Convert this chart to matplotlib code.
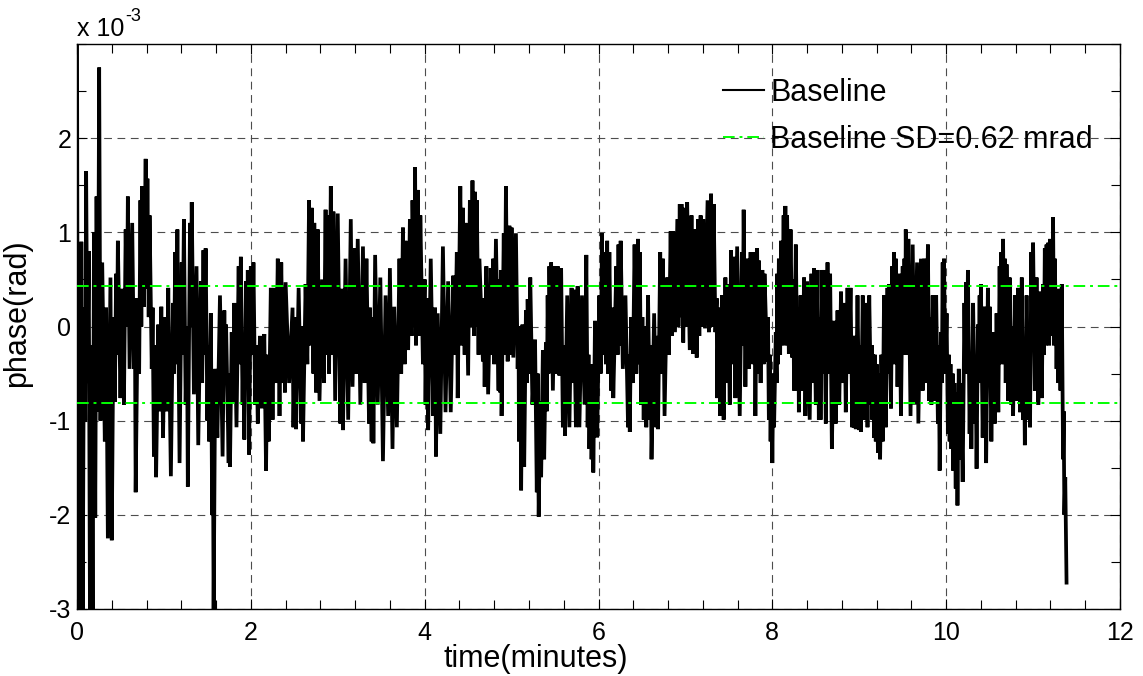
import numpy as np
import matplotlib
matplotlib.use("Agg")
import matplotlib.pyplot as plt
from matplotlib.ticker import MultipleLocator, FuncFormatter

plt.rcParams['font.family'] = ['Liberation Sans', 'DejaVu Sans']

# signal peaks / troughs (time in minutes, phase in mrad)
t_seg1 = [0.000, 0.012, 0.025, 0.035, 0.050, 0.065, 0.080, 0.095, 0.105, 0.120,
          0.135, 0.150, 0.165, 0.180, 0.195, 0.210, 0.225, 0.240, 0.255, 0.270,
          0.290, 0.320, 0.335, 0.355, 0.385, 0.400, 0.420, 0.435, 0.450, 0.460,
          0.470, 0.500, 0.520, 0.540, 0.560, 0.575, 0.585, 0.605, 0.635, 0.655,
          0.665, 0.675, 0.700, 0.715, 0.730, 0.740, 0.750, 0.770, 0.790, 0.800,
          0.810, 0.825, 0.835, 0.860, 0.870, 0.885, 0.900, 0.910, 0.935, 0.950,
          0.970, 0.990, 1.010, 1.030, 1.050, 1.080, 1.105, 1.115, 1.130, 1.140,
          1.155, 1.180, 1.205, 1.215, 1.230, 1.250, 1.265, 1.275, 1.300, 1.310,
          1.320, 1.345, 1.375, 1.395, 1.425, 1.440, 1.455, 1.465, 1.480, 1.500,
          1.510, 1.520, 1.540, 1.555, 1.563, 1.572, 1.590, 1.615, 1.645, 1.675,
          1.695, 1.705, 1.715, 1.745, 1.752, 1.760, 1.780, 1.795, 1.810, 1.835,
          1.860, 1.870, 1.885, 1.905, 1.915, 1.925, 1.945, 1.955, 1.965, 1.980,
          2.000, 2.015, 2.030, 2.050, 2.065, 2.080, 2.105, 2.125, 2.155, 2.175,
          2.190, 2.205, 2.230, 2.250, 2.270, 2.290, 2.310, 2.330, 2.350, 2.370,
          2.385]
v_seg1 = [3.3, -3.3, 0.5, -3.3, 0.9, -3.3, 0.2, -1.0, 1.65, -0.6,
          0.8, -3.3, -0.2, -3.3, 1.0, -2.03, 1.38, -0.9, 2.75, -1.0,
          0.68, -1.22, 0.2, -2.25, 0.52, -2.27, 0.1, -0.8, 0.56, -0.3,
          0.91, -0.76, 0.4, -0.83, 1.03, 0.0, 1.38, -0.45, 1.1, -0.45,
          0.3, -1.76, 0.3, -0.5, 1.34, 0.0, 1.49, 0.21, 1.78, 0.4,
          1.57, 0.1, 1.18, -0.45, 0.2, -1.38, -0.2, -1.6, 0.02, -0.9,
          0.21, -1.18, 0.1, -0.9, 0.41, -1.59, 0.25, -0.5, 0.79, -0.4,
          1.03, -1.45, 0.68, -0.3, 1.14, -0.83, 0.0, -1.7, 1.1, 0.0,
          1.32, -0.72, 0.64, -1.26, 0.48, -0.6, 0.81, -0.3, 0.83, -1.0,
          -0.2, -1.22, 0.14, -2.0, -1.0, -3.05, -0.45, -1.18, 0.33, -1.38,
          0.17, -0.6, 0.02, -1.45, -0.5, -1.49, -0.06, -0.8, 0.25, -1.07,
          0.64, -0.4, 0.74, -0.83, -0.1, -1.2, 0.48, -0.4, 0.6, -1.36,
          0.64, -0.3, 0.68, -0.83, -0.2, -1.03, -0.1, -0.87, -0.08, -1.53,
          -0.3, -1.22, 0.41, -0.99, 0.41, -0.6, 0.72, -0.95, 0.68, -0.6,
          0.41]

t_seg2 = [2.392, 2.40, 2.44, 2.48, 2.49, 2.51, 2.52, 2.55, 2.58, 2.59,
          2.60, 2.63, 2.65, 2.67, 2.69, 2.70, 2.72, 2.73, 2.75, 2.77,
          2.79, 2.82, 2.84, 2.86, 2.87, 2.88, 2.90, 2.92, 2.94, 2.95,
          2.97, 3.00, 3.03, 3.05, 3.06, 3.09, 3.12, 3.15, 3.17, 3.20,
          3.21, 3.23, 3.26, 3.29, 3.31, 3.33, 3.36, 3.37, 3.39, 3.40,
          3.41, 3.43, 3.46, 3.49, 3.52, 3.55, 3.58, 3.60, 3.63, 3.65,
          3.68, 3.71, 3.73, 3.75, 3.77, 3.78, 3.81, 3.83, 3.85, 3.86,
          3.88, 3.89, 3.90, 3.92, 3.94, 3.95, 3.98, 4.00, 4.01, 4.025,
          4.04, 4.07, 4.10, 4.12, 4.13, 4.15, 4.18, 4.21, 4.24, 4.27,
          4.30, 4.33, 4.35, 4.37, 4.38, 4.41, 4.43, 4.44, 4.46, 4.47,
          4.50, 4.52, 4.53, 4.55, 4.57, 4.58, 4.59, 4.60, 4.62, 4.63,
          4.67, 4.68, 4.69, 4.71, 4.73, 4.76, 4.78, 4.79, 4.80, 4.82,
          4.85, 4.86, 4.87]
v_seg2 = [-0.7, 0.47, -0.6, 0.2, -1.07, 0.1, -1.09, 0.41, -1.03, 0.0,
          -1.22, 0.45, -0.4, 1.34, -0.2, 1.26, -0.5, 1.10, -0.7, 1.03,
          -0.79, 0.5, -0.6, 1.24, -0.3, 1.18, -0.5, 1.49, -0.3, 1.22,
          -0.79, 1.20, -1.03, 0.4, -1.10, 0.72, -0.99, 1.14, -0.64, 0.83,
          -0.5, 0.93, -0.83, 0.85, -0.6, 0.72, -1.03, 0.2, -1.22, 0.1,
          -1.24, 0.76, -0.83, 0.52, -1.43, 0.33, -0.95, 0.62, -1.30, 0.21,
          -1.07, 0.72, -0.5, 1.05, -0.4, 0.91, -0.25, 1.14, -0.1, 1.34,
          0.0, 1.69, -0.2, 1.45, -0.1, 1.18, -0.4, 0.5, -0.83, 0.3,
          -1.10, 0.72, -0.95, 0.2, -1.38, 0.14, -1.14, 0.85, -0.91, 0.48,
          -0.91, 0.54, -0.3, 0.79, -0.76, 1.49, -0.2, 1.26, -0.3, 1.10,
          -0.52, 1.34, 0.0, 1.55, -0.1, 1.43, 0.0, 1.34, -0.3, 0.72,
          -0.37, 0.3, -0.64, 0.64, -0.72, 0.62, -0.3, 0.72, -0.4, 0.93,
          -0.68, 0.5, -0.70]

t_seg3 = [4.878, 4.885, 4.91, 4.92, 4.935, 4.955, 4.975, 4.985, 5.00, 5.02,
          5.05, 5.07, 5.08, 5.085, 5.10, 5.11, 5.125, 5.145, 5.165, 5.175,
          5.185, 5.20, 5.215, 5.24, 5.27, 5.29, 5.30, 5.312, 5.33, 5.34,
          5.36, 5.375, 5.395, 5.405, 5.415, 5.425, 5.435, 5.45, 5.455, 5.475,
          5.50, 5.515, 5.53, 5.55, 5.57, 5.59, 5.60, 5.615, 5.64, 5.665,
          5.69, 5.70, 5.715, 5.74, 5.76, 5.78, 5.81, 5.84, 5.86, 5.875,
          5.885, 5.895, 5.91, 5.92, 5.935, 5.94, 5.96, 5.985, 6.01, 6.025,
          6.04, 6.055, 6.07, 6.085, 6.10, 6.11, 6.125, 6.145, 6.16, 6.17,
          6.205, 6.22, 6.23, 6.24, 6.255, 6.28, 6.31, 6.34, 6.35, 6.36,
          6.375, 6.395, 6.415, 6.435, 6.455, 6.465, 6.475, 6.49, 6.505, 6.52,
          6.535, 6.55, 6.57, 6.59, 6.60, 6.61, 6.64, 6.665, 6.675, 6.685,
          6.71, 6.725, 6.74, 6.76, 6.79, 6.81, 6.83, 6.845, 6.86, 6.88,
          6.91, 6.92, 6.935, 6.945, 6.955, 6.975, 6.995, 7.01, 7.02, 7.05,
          7.07, 7.09, 7.11, 7.13, 7.145, 7.16, 7.175, 7.19, 7.205, 7.225,
          7.255, 7.27]
v_seg3 = [0.6, -0.95, 0.99, -0.3, 1.49, -0.37, 1.07, -0.3, 1.05, -0.33,
          0.99, -0.45, 0.0, -1.22, -0.2, -1.74, 0.02, -1.49, 0.17, -0.6,
          0.29, -0.5, 0.52, -0.83, -0.14, -1.76, -0.5, -2.02, -0.8, -1.60,
          -0.25, -1.41, -0.17, -0.9, 0.33, -0.5, 0.64, -0.4, 0.68, -0.68,
          0.64, -0.5, 0.64, -0.52, 0.62, -1.07, -0.2, -1.16, 0.33, -1.07,
          0.41, -0.6, 0.39, -1.07, 0.43, -1.07, 0.33, -0.83, 0.76, -1.07,
          -0.3, -1.30, -0.4, -1.41, -0.6, -1.55, 0.06, -1.18, 0.33, -0.5,
          0.99, -0.3, 0.79, -0.4, 0.91, -0.5, 0.79, -0.68, 0.2, -0.76,
          0.64, -0.3, 0.87, -0.2, 0.91, -0.45, 0.33, -1.07, -0.3, -1.12,
          0.10, -0.6, 0.87, -0.5, 0.93, -0.4, 0.79, -0.83, 0.1, -0.99,
          0.0, -1.07, 0.33, -0.99, -0.2, -1.41, 0.14, -1.07, -0.1, -1.09,
          0.79, -0.5, 0.72, -0.95, 0.52, -0.3, 1.01, -0.1, 1.01, -0.06,
          1.14, 0.0, 1.30, 0.1, 1.30, -0.17, 1.26, 0.0, 1.32, -0.25,
          1.18, -0.29, 1.03, -0.33, 1.14, -0.1, 1.18, 0.0, 1.14, -0.02,
          1.34, -0.06]

t_seg4 = [7.295, 7.31, 7.325, 7.345, 7.36, 7.365, 7.38, 7.40, 7.42, 7.44,
          7.46, 7.475, 7.49, 7.51, 7.525, 7.545, 7.555, 7.575, 7.595, 7.625,
          7.65, 7.66, 7.67, 7.69, 7.71, 7.73, 7.75, 7.76, 7.77, 7.78,
          7.79, 7.805, 7.825, 7.835, 7.845, 7.865, 7.885, 7.90, 7.91, 7.94,
          7.95, 7.96, 7.97, 7.98, 7.99, 8.00, 8.01, 8.02, 8.04, 8.05,
          8.055, 8.065, 8.075, 8.09, 8.10, 8.115, 8.13, 8.14, 8.15, 8.16,
          8.17, 8.19, 8.21, 8.23, 8.24, 8.25, 8.27, 8.29, 8.30, 8.305,
          8.325, 8.345, 8.365, 8.38, 8.40, 8.43, 8.45, 8.465, 8.48, 8.50,
          8.52, 8.535, 8.545, 8.555, 8.575, 8.585, 8.595, 8.615, 8.635, 8.65,
          8.665, 8.685, 8.71, 8.73, 8.75, 8.77, 8.79, 8.81, 8.83, 8.845,
          8.865, 8.88, 8.90, 8.92, 8.93, 8.94, 8.95, 8.96, 8.98, 9.00,
          9.01, 9.02, 9.04, 9.06, 9.075, 9.095, 9.115, 9.135, 9.145, 9.15,
          9.16, 9.17, 9.18, 9.19, 9.20, 9.215, 9.23, 9.24, 9.255, 9.27,
          9.285, 9.305, 9.325, 9.335, 9.345, 9.365, 9.38, 9.39, 9.40, 9.41,
          9.42, 9.44, 9.46, 9.48, 9.50, 9.51, 9.52, 9.53, 9.535, 9.55,
          9.565, 9.59, 9.615, 9.635, 9.665, 9.68]
v_seg4 = [1.41, 0.0, 1.30, -0.06, 0.3, -0.76, 0.2, -0.95, 0.33, -0.99,
          0.52, -0.6, 0.45, -0.83, 0.81, -0.4, 0.74, -0.76, 0.85, -0.95,
          0.79, -0.2, 1.24, -0.64, 0.72, -0.45, 0.79, -0.3, 0.76, -0.4,
          0.79, -0.95, 0.83, -0.5, 0.70, -0.6, 0.60, -0.4, 0.56, -0.37,
          0.1, -0.99, -0.3, -1.22, -0.5, -1.45, -0.6, -1.07, -0.06, -0.6,
          0.56, -0.4, 0.72, -0.3, 0.91, -0.2, 1.18, -0.1, 1.28, -0.2,
          1.18, -0.29, 1.03, -0.33, 0.5, -0.68, 0.87, -0.68, 0.2, -0.91,
          0.33, -0.68, 0.52, -0.95, 0.48, -0.99, 0.56, -0.6, 0.62, -0.83,
          0.60, -0.99, 0.1, -0.99, 0.60, -0.5, 0.60, -1.03, 0.68, -0.5,
          0.56, -1.30, 0.06, -1.03, 0.17, -0.83, 0.37, -0.6, 0.25, -0.91,
          0.41, -0.5, 0.41, -1.07, -0.1, -1.07, -0.1, -1.09, 0.33, -1.10,
          -0.2, -1.12, 0.33, -0.99, 0.25, -1.07, 0.33, -0.83, -0.2, -0.99,
          -0.3, -1.18, -0.3, -1.22, -0.4, -1.34, -0.5, -1.41, -0.3, -1.22,
          0.33, -1.07, 0.41, -0.5, 0.45, -0.87, 0.64, -0.3, 0.79, -0.4,
          0.72, -0.64, 0.56, -0.95, 0.64, -0.3, 0.72, -0.2, 1.03, -0.3,
          0.93, -0.95, 0.87, -0.83, 0.68, -1.03]

t_seg5 = [9.71, 9.73, 9.75, 9.77, 9.79, 9.805, 9.82, 9.83, 9.845, 9.865,
          9.885, 9.905, 9.915, 9.925, 9.94, 9.95, 9.96, 9.965, 9.975, 9.99,
          10.005, 10.02, 10.03, 10.04, 10.05, 10.06, 10.075, 10.08, 10.095, 10.11,
          10.12, 10.13, 10.145, 10.16, 10.17, 10.19, 10.21, 10.22, 10.23, 10.24,
          10.25, 10.27, 10.28, 10.29, 10.31, 10.33, 10.34, 10.35, 10.365, 10.375,
          10.385, 10.39, 10.40, 10.42, 10.44, 10.46, 10.48, 10.49, 10.50, 10.52,
          10.54, 10.56, 10.58, 10.60, 10.615, 10.625, 10.635, 10.645, 10.655, 10.665,
          10.675, 10.685, 10.695, 10.715, 10.73, 10.75, 10.76, 10.77, 10.79, 10.81,
          10.83, 10.85, 10.87, 10.885, 10.895, 10.905, 10.925, 10.945, 10.955, 10.965,
          10.98, 10.99, 11.00, 11.02, 11.04, 11.06, 11.08, 11.10, 11.115, 11.125,
          11.135, 11.145, 11.155, 11.165, 11.175, 11.185, 11.195, 11.205, 11.215, 11.225,
          11.23, 11.24, 11.25, 11.27, 11.28, 11.29, 11.30, 11.315, 11.33, 11.345,
          11.352, 11.36, 11.37, 11.385]
v_seg5 = [0.72, -0.68, 0.72, -0.6, 0.87, -0.79, 0.1, -0.83, 0.33, -0.79,
          0.33, -1.03, -0.2, -1.53, -0.06, -0.6, 0.68, -0.3, 0.72, -0.5,
          0.14, -1.14, -0.3, -1.22, -0.4, -1.30, -0.5, -1.53, -0.6, -1.72,
          -0.7, -1.90, -0.45, -1.41, -0.6, -1.65, 0.25, -0.5, 0.47, -0.4,
          0.60, -1.14, -0.3, -1.30, 0.25, -1.03, -0.5, -1.51, 0.02, -0.6,
          0.33, -0.4, 0.45, -1.18, 0.21, -1.45, 0.41, -0.6, 0.21, -1.22,
          -0.06, -1.03, 0.14, -0.91, 0.64, -0.4, 0.79, -0.3, 0.93, -0.4,
          0.72, -0.6, 0.66, -0.79, 0.52, -0.83, 0.0, -0.95, 0.33, -0.79,
          0.41, -0.91, 0.52, -0.99, -0.2, -1.26, 0.33, -0.99, -0.2, -1.07,
          0.79, -0.2, 0.89, -0.68, 0.52, -0.83, 0.37, -0.76, 0.45, -0.3,
          0.83, -0.2, 0.87, -0.1, 0.89, -0.2, 0.93, -0.1, 0.91, 0.0,
          1.16, -0.2, 0.72, -0.45, 0.1, -0.6, 0.4, -0.68, 0.45, -1.41,
          -0.9, -2.0, -1.6, -2.72]

sd_mean = -0.19   # mrad
sd_value = 0.62   # mrad

t_all = np.concatenate([t_seg1, t_seg2, t_seg3, t_seg4, t_seg5])
v_all = np.concatenate([v_seg1, v_seg2, v_seg3, v_seg4, v_seg5])
phase = v_all * 1e-3

fig = plt.figure(figsize=(11.43, 6.76), dpi=100)
ax = fig.add_axes([77 / 1143, 67 / 676, 1043 / 1143, 565 / 676])

ax.plot(t_all, phase, color='black', lw=2.7, label='Baseline', zorder=3,
        solid_joinstyle='miter')
green_style = dict(color=(0, 1, 0), lw=1.4, ls=(0, (6, 2.5, 1.5, 2.5)), zorder=4)
ax.plot([0, 12], [(sd_mean + sd_value) * 1e-3] * 2, label='Baseline SD=0.62 mrad', **green_style)
ax.plot([0, 12], [(sd_mean - sd_value) * 1e-3] * 2, **green_style)

ax.set_xlim(0, 12)
ax.set_ylim(-3e-3, 3e-3)
ax.set_xticks(np.arange(0, 13, 2))
ax.set_yticks(np.arange(-3, 3, 1) * 1e-3)
ax.xaxis.set_minor_locator(MultipleLocator(0.4))
ax.yaxis.set_minor_locator(MultipleLocator(0.5e-3))
ax.yaxis.set_major_formatter(FuncFormatter(lambda y, p: '%g' % round(y * 1e3, 6)))
ax.tick_params(which='both', direction='in', top=True, right=True, labelsize=18,
               width=0.8, color='black')
ax.tick_params(which='major', length=7)
ax.tick_params(which='minor', length=6.5)
ax.tick_params(axis='x', pad=9)
ax.tick_params(axis='y', pad=4)
for s in ax.spines.values():
    s.set_linewidth(1.0)

ax.grid(True, which='major', color='0.3', lw=0.8, ls=(0, (7, 5)))
ax.set_axisbelow(True)

ax.set_xlabel('time(minutes)', fontsize=22)
ax.xaxis.set_label_coords(0.44, -0.062)
ax.set_ylabel('phase(rad)', fontsize=22)
ax.yaxis.set_label_coords(-0.043, 0.524)

ax.text(0, 1.0 + 8 / 565, 'x 10', transform=ax.transAxes,
        ha='left', va='baseline', fontsize=18)
ax.text(48 / 1043, 1.0 + 23 / 565, '-3', transform=ax.transAxes,
        ha='left', va='baseline', fontsize=13)

leg = ax.legend(loc='upper right', bbox_to_anchor=(0.974, 0.94), frameon=False,
                fontsize=22, handlelength=1.35, handletextpad=0.2, borderpad=0,
                borderaxespad=0, labelspacing=0.55)
leg.get_lines()[0].set_linewidth(1.5)

fig.savefig('out.png', dpi=100)
